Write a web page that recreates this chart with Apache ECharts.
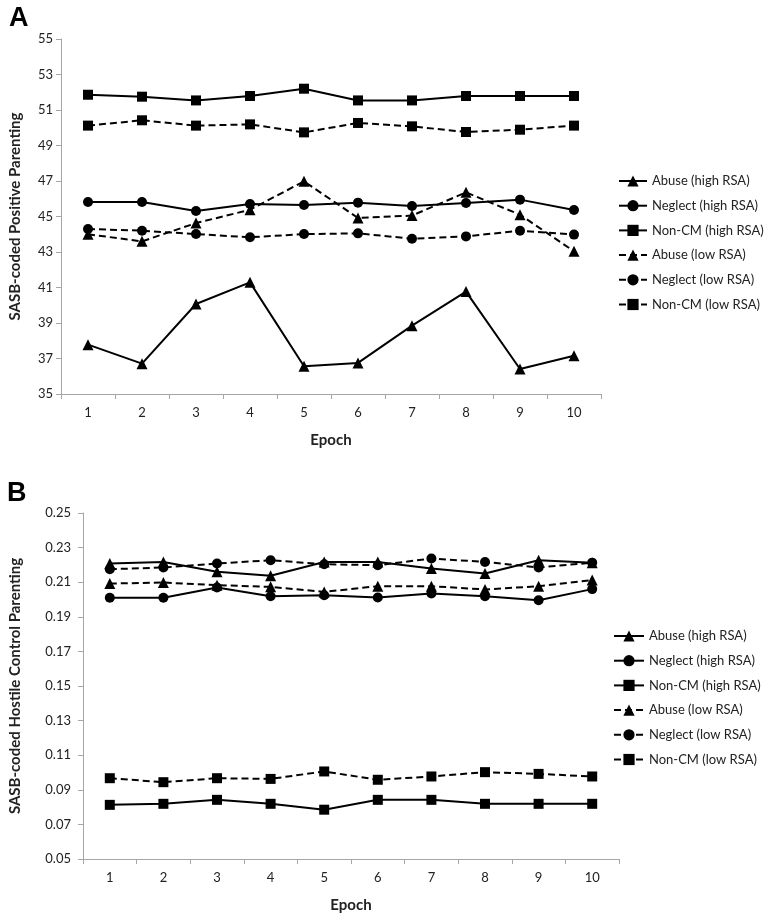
<!DOCTYPE html>
<html>
<head>
<meta charset="utf-8">
<script src="https://cdn.jsdelivr.net/npm/echarts@6/dist/echarts.min.js"></script>
<style>
html,body{margin:0;padding:0;background:#fff;}
#main{width:768px;height:916px;}
</style>
</head>
<body>
<div id="main"></div>
<script>
const epochs = ['1','2','3','4','5','6','7','8','9','10'];
const seriesNames = ['Abuse (high RSA)','Neglect (high RSA)','Non-CM (high RSA)','Abuse (low RSA)','Neglect (low RSA)','Non-CM (low RSA)'];

// Panel A: SASB-coded Positive Parenting
const posAbuseHigh   = [37.78, 36.71, 40.07, 41.29, 36.56, 36.75, 38.85, 40.77, 36.41, 37.16];
const posNeglectHigh = [45.82, 45.82, 45.31, 45.70, 45.65, 45.78, 45.59, 45.76, 45.95, 45.37];
const posNonCMHigh   = [51.86, 51.75, 51.54, 51.79, 52.20, 51.54, 51.54, 51.79, 51.79, 51.79];
const posAbuseLow    = [44.00, 43.60, 44.63, 45.38, 46.98, 44.92, 45.05, 46.36, 45.10, 43.04];
const posNeglectLow  = [44.30, 44.20, 44.01, 43.83, 44.01, 44.05, 43.75, 43.88, 44.20, 43.98];
const posNonCMLow    = [50.12, 50.42, 50.12, 50.19, 49.74, 50.27, 50.08, 49.76, 49.89, 50.12];

// Panel B: SASB-coded Hostile Control Parenting
const hosAbuseHigh   = [0.2208, 0.2217, 0.2160, 0.2137, 0.2217, 0.2217, 0.2179, 0.2150, 0.2227, 0.2213];
const hosNeglectHigh = [0.2010, 0.2010, 0.2069, 0.2019, 0.2025, 0.2012, 0.2035, 0.2019, 0.1996, 0.2060];
const hosNonCMHigh   = [0.0813, 0.0819, 0.0842, 0.0819, 0.0785, 0.0842, 0.0842, 0.0819, 0.0819, 0.0819];
const hosAbuseLow    = [0.2092, 0.2098, 0.2083, 0.2073, 0.2044, 0.2077, 0.2077, 0.2058, 0.2077, 0.2112];
const hosNeglectLow  = [0.2175, 0.2185, 0.2208, 0.2227, 0.2204, 0.2198, 0.2237, 0.2217, 0.2185, 0.2213];
const hosNonCMLow    = [0.0967, 0.0944, 0.0967, 0.0963, 0.1006, 0.0958, 0.0977, 0.1002, 0.0992, 0.0977];

const FONT = 'Lato';
const symbols = ['triangle','circle','rect','triangle','circle','rect'];
const symSizes = [11, 10, 10, 11, 10, 10];
const panelA = [posAbuseHigh, posNeglectHigh, posNonCMHigh, posAbuseLow, posNeglectLow, posNonCMLow];
const panelB = [hosAbuseHigh, hosNeglectHigh, hosNonCMHigh, hosAbuseLow, hosNeglectLow, hosNonCMLow];

function mkSeries(data, idx) {
  const out = [];
  data.forEach((d, i) => {
    out.push({
      name: seriesNames[i],
      type: 'line',
      xAxisIndex: idx,
      yAxisIndex: idx,
      data: d,
      symbol: symbols[i],
      symbolSize: symSizes[i],
      showAllSymbol: true,
      itemStyle: {color: '#000'},
      lineStyle: {color: '#000', width: 2, type: i < 3 ? 'solid' : [7, 4]},
      emphasis: {disabled: true},
      animation: false
    });
  });
  return out;
}

const axisLineStyle = {lineStyle: {color: '#a6a6a6', width: 1}};
const tickLabel = {color: '#222', fontFamily: FONT, fontSize: 13};
const titleStyle = {fontFamily: FONT, fontWeight: 'bold', fontSize: 15, color: '#222'};
const legendText = {fontFamily: FONT, fontSize: 13, color: '#222', lineHeight: 14};

const chart = echarts.init(document.getElementById('main'), null, {renderer: 'canvas'});
chart.setOption({
  backgroundColor: '#fff',
  animation: false,
  textStyle: {fontFamily: FONT},
  graphic: [
    {type: 'text', left: 9, top: 5, style: {text: 'A', font: 'bold 27px Arial', fill: '#000'}},
    {type: 'text', left: 7, top: 480, style: {text: 'B', font: 'bold 27px Arial', fill: '#000'}}
  ],
  grid: [
    {left: 55, top: 39, width: 546, height: 355},
    {left: 77, top: 513, width: 542, height: 346}
  ],
  legend: [
    {
      data: seriesNames, orient: 'vertical', left: 618, top: 174, padding: 0,
      itemWidth: 28, itemHeight: 14, itemGap: 10.7,
      textStyle: legendText,
      selectedMode: false
    },
    {
      data: seriesNames, orient: 'vertical', left: 613, top: 629, padding: 0,
      itemWidth: 30, itemHeight: 14, itemGap: 10.7,
      textStyle: legendText,
      selectedMode: false
    }
  ],
  xAxis: [
    {
      type: 'category', gridIndex: 0, data: epochs, boundaryGap: true,
      axisLine: axisLineStyle, axisTick: {show: true, length: 5, lineStyle: {color: '#a6a6a6'}},
      axisLabel: Object.assign({margin: 12}, tickLabel),
      name: 'Epoch', nameLocation: 'middle', nameGap: 39,
      nameTextStyle: titleStyle
    },
    {
      type: 'category', gridIndex: 1, data: epochs, boundaryGap: true,
      axisLine: axisLineStyle, axisTick: {show: true, length: 5, lineStyle: {color: '#a6a6a6'}},
      axisLabel: Object.assign({margin: 12}, tickLabel),
      name: 'Epoch', nameLocation: 'middle', nameGap: 39,
      nameTextStyle: titleStyle
    }
  ],
  yAxis: [
    {
      type: 'value', gridIndex: 0, min: 35, max: 55, interval: 2,
      axisLine: Object.assign({show: true}, axisLineStyle),
      axisTick: {show: true, length: 5, lineStyle: {color: '#a6a6a6'}},
      splitLine: {show: false},
      axisLabel: Object.assign({margin: 8}, tickLabel),
      name: 'SASB-coded Positive Parenting', nameLocation: 'middle', nameGap: 38,
      nameTextStyle: titleStyle
    },
    {
      type: 'value', gridIndex: 1, min: 0.05, max: 0.25, interval: 0.02,
      axisLine: Object.assign({show: true}, axisLineStyle),
      axisTick: {show: true, length: 5, lineStyle: {color: '#a6a6a6'}},
      splitLine: {show: false},
      axisLabel: Object.assign({margin: 12, formatter: v => v.toFixed(2)}, tickLabel),
      name: 'SASB-coded Hostile Control Parenting', nameLocation: 'middle', nameGap: 60,
      nameTextStyle: titleStyle
    }
  ],
  series: mkSeries(panelA, 0).concat(mkSeries(panelB, 1))
});
</script>
</body>
</html>
